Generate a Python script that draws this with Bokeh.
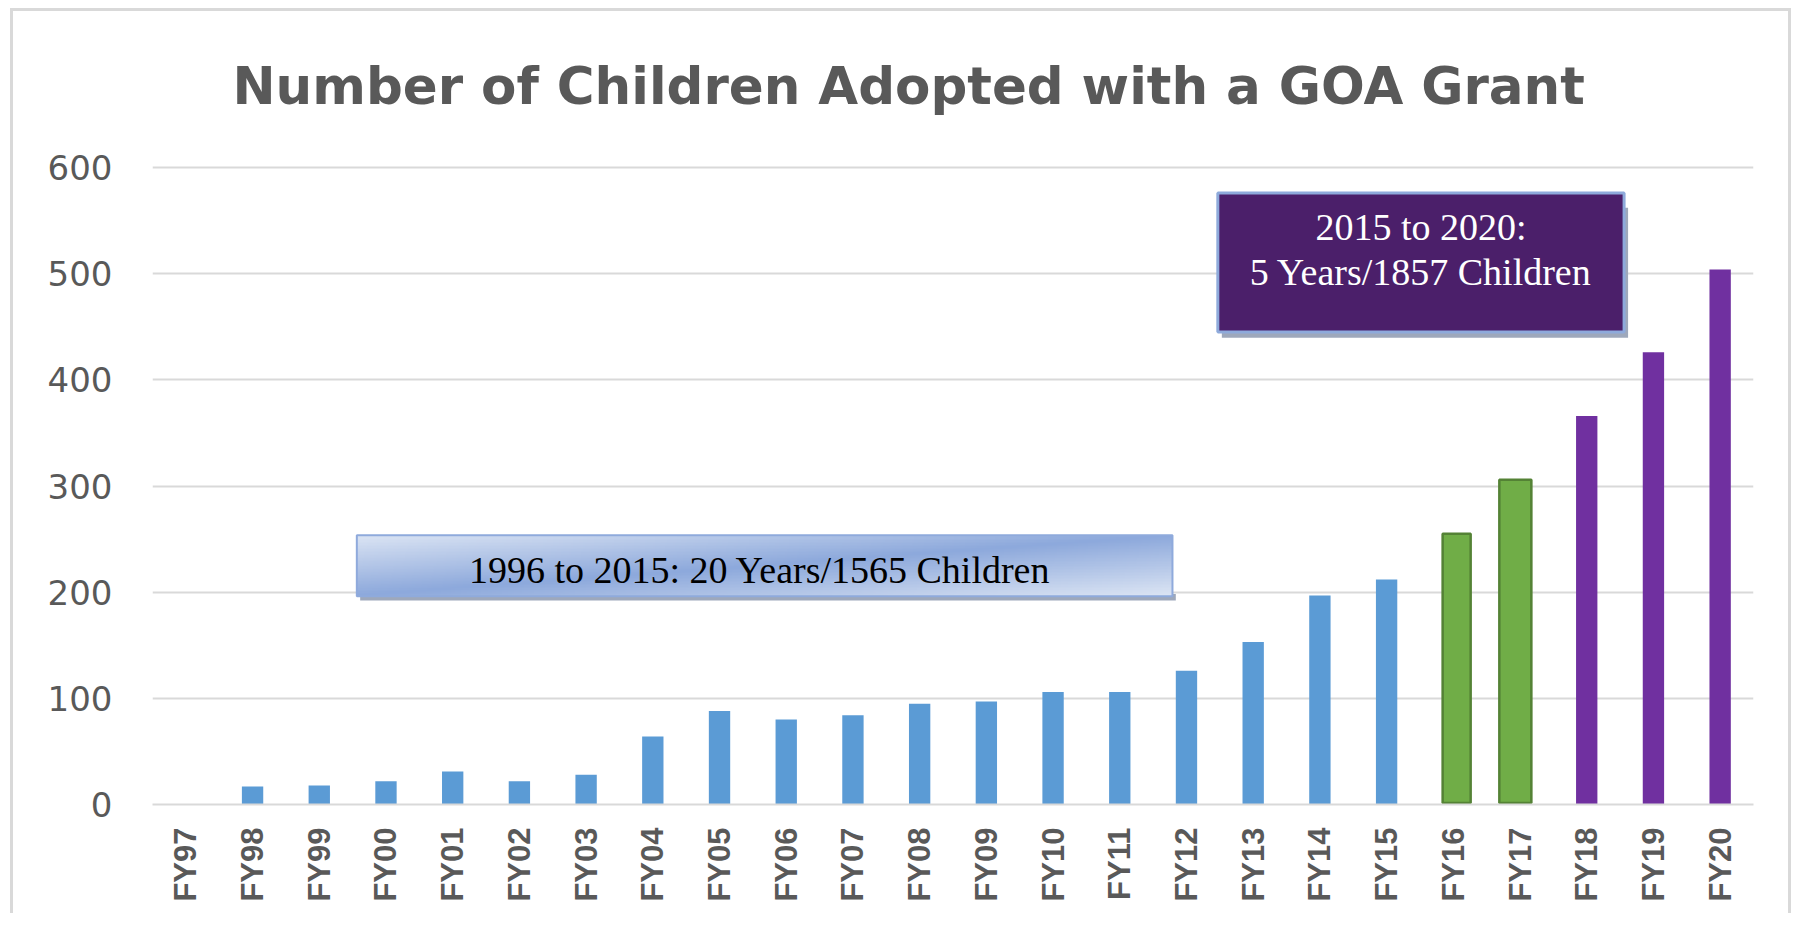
import numpy as np
from bokeh.plotting import figure
from bokeh.models import Range1d, FixedTicker
from bokeh.embed import file_html
from bokeh.resources import INLINE
from bokeh.core.properties import value

# ---------------- data ----------------
years = ["FY97", "FY98", "FY99", "FY00", "FY01", "FY02", "FY03", "FY04", "FY05",
         "FY06", "FY07", "FY08", "FY09", "FY10", "FY11", "FY12", "FY13", "FY14",
         "FY15", "FY16", "FY17", "FY18", "FY19", "FY20"]
children = [0, 17, 18, 22, 31, 22, 28, 64, 88, 80, 84, 95, 97, 106, 106, 126,
            153, 197, 212, 255, 306, 366, 426, 504]
green_years = ["FY16", "FY17"]
first_recent_year = "FY16"
y_ticks = [0, 100, 200, 300, 400, 500, 600]
title_text = "Number of Children Adopted with a GOA Grant"
period1_text = "1996 to 2015:  20 Years/1565 Children"
period2_lines = ["2015 to 2020:", "5 Years/1857 Children"]

# ---------------- styling ----------------
BLUE = "#5b9bd5"
PURPLE = "#7030a0"
GREEN = "#70ad47"
GREEN_LINE = "#548235"
GRID = "#d9d9d9"
TEXT_GREY = "#595959"

W, H = 1791, 913
Y_TOP = 602
p = figure(width=W, height=H, output_backend="svg", toolbar_location=None,
           x_range=Range1d(-0.5, len(years) - 0.5), y_range=Range1d(0, Y_TOP),
           min_border_left=152, min_border_right=38, min_border_top=165,
           min_border_bottom=109)
p.outline_line_color = None
p.background_fill_color = "white"
p.border_fill_color = None
# light grey chart-area border (top, left, right) drawn behind the canvas
p.styles = {
    "background": (
        "linear-gradient(#d9d9d9, #d9d9d9) 10px 8px / 3px calc(100% - 8px) no-repeat, "
        "linear-gradient(#d9d9d9, #d9d9d9) 10px 8px / calc(100% - 10px) 3px no-repeat, "
        "linear-gradient(#d9d9d9, #d9d9d9) right 0px top 8px / 3px calc(100% - 8px) no-repeat, "
        "white"
    )
}

# title
p.title.text = title_text
p.title.align = "left"
p.title.offset = 80
p.title.text_font = "DejaVu Sans"
p.title.text_font_style = "bold"
p.title.text_font_size = "51.5px"
p.title.text_color = TEXT_GREY
p.title.standoff = 100

# axes
xs = list(range(len(years)))
p.xaxis.ticker = FixedTicker(ticks=xs)
p.xaxis.major_label_overrides = {i: years[i] for i in xs}
p.xaxis.major_label_orientation = np.pi / 2
p.xaxis.major_tick_line_color = None
p.xaxis.minor_tick_line_color = None
p.xaxis.major_tick_out = 0
p.xaxis.major_tick_in = 0
p.xaxis.axis_line_color = GRID
p.xaxis.axis_line_width = 2
p.xaxis.major_label_text_font = "Liberation Sans"
p.xaxis.major_label_text_font_style = "bold"
p.xaxis.major_label_text_font_size = "31px"
p.xaxis.major_label_text_color = TEXT_GREY
p.xaxis.major_label_standoff = 23

p.yaxis.ticker = FixedTicker(ticks=y_ticks)
p.yaxis.axis_line_color = None
p.yaxis.major_tick_line_color = None
p.yaxis.minor_tick_line_color = None
p.yaxis.major_tick_out = 0
p.yaxis.major_tick_in = 0
p.yaxis.major_label_text_font = "DejaVu Sans"
p.yaxis.major_label_text_font_size = "34px"
p.yaxis.major_label_text_color = TEXT_GREY
p.yaxis.major_label_standoff = 40

p.xgrid.grid_line_color = None
p.ygrid.ticker = FixedTicker(ticks=y_ticks)
p.ygrid.grid_line_color = GRID
p.ygrid.grid_line_width = 2

# bars
split = years.index(first_recent_year)
colors = [BLUE if i < split else PURPLE for i in xs]
p.vbar(x=xs, top=children, width=0.32, fill_color=colors, line_color=None)

# green highlight boxes over FY16 / FY17
g_idx = [years.index(g) for g in green_years]
g_left = [g_idx[0] - 0.16, g_idx[1] - 0.31]
g_right = [g_idx[0] + 0.26, g_idx[1] + 0.17]
p.quad(left=g_left, right=g_right, bottom=[1.5, 1.5],
       top=[children[i] for i in g_idx],
       fill_color=GREEN, line_color=GREEN_LINE, line_width=2.5)

# ---------- annotation box 1 (gradient) ----------
b1_l, b1_r, b1_b, b1_t = 2.563, 14.79, 196.3, 253.7
p.quad(left=[b1_l + 0.05], right=[b1_r + 0.05], bottom=[b1_b - 4.0], top=[b1_b + 2],
       fill_color="#9ea8bb", line_color=None)
gh, gw = 40, 400
u = np.linspace(0, 1, gw)[None, :]
v = np.linspace(1, 0, gh)[:, None]
t = (u + v) / 2.0
s = 1 - np.abs(2 * t - 1)
light = np.array([220, 229, 244])
dark = np.array([141, 169, 220])
img = np.empty((gh, gw), dtype=np.uint32)
view = img.view(dtype=np.uint8).reshape((gh, gw, 4))
for c in range(3):
    view[:, :, c] = (light[c] + (dark[c] - light[c]) * s).astype(np.uint8)
view[:, :, 3] = 255
p.image_rgba(image=[img], x=b1_l, y=b1_b, dw=b1_r - b1_l, dh=b1_t - b1_b)
p.quad(left=[b1_l], right=[b1_r], bottom=[b1_b], top=[b1_t],
       fill_color=None, line_color="#8faadc", line_width=2)
p.text(x=[(b1_l + b1_r) / 2], y=[220.8], text=[period1_text],
       text_font=value("Liberation Serif"), text_font_size="38px",
       text_align="center", text_baseline="middle", text_color="black")

# ---------- annotation box 2 (purple) ----------
b2_l, b2_r, b2_b, b2_t = 15.47, 21.56, 445.2, 576.2
p.quad(left=[b2_l + 0.06], right=[b2_r + 0.06], bottom=[b2_b - 5.5], top=[b2_t - 14],
       fill_color="#9ea8bb", line_color=None)
p.quad(left=[b2_l], right=[b2_r], bottom=[b2_b], top=[b2_t],
       fill_color="#4b1f6a", line_color="#8eaadb", line_width=3)
p.text(x=[(b2_l + b2_r) / 2] * 2, y=[543.8, 501.4], text=period2_lines,
       text_font=value("Liberation Serif"), text_font_size="38px",
       text_align="center", text_baseline="middle", text_color="white")

open("out.html", "w").write(file_html(p, INLINE))
